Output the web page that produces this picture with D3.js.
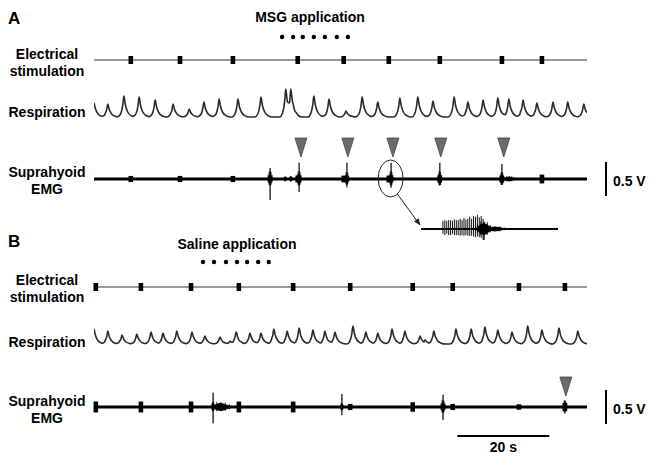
<!DOCTYPE html>
<html>
<head>
<meta charset="utf-8">
<script src="https://cdn.jsdelivr.net/npm/d3@7"></script>
<style>
  body { margin: 0; background: #fff; }
  svg { display: block; font-family: Arial, "Liberation Sans", sans-serif; font-weight: bold; }
</style>
</head>
<body>
<svg id="fig" width="649" height="456"></svg>
<script>
// all times in seconds, respiration in a.u., EMG in volts

// stimulation pulses
var stimA = [8.0, 18.7, 30.2, 44.3, 54.3, 64.1, 75.2, 88.7, 97.4];
var stimB = [0.4, 10.2, 21.1, 31.5, 43.3, 55.7, 69.3, 78.0, 92.4, 102.4];

// drops of MSG / saline
var dropsA = [40.9, 43.3, 45.4, 47.8, 50.2, 52.8, 55.2];
var dropsB = [23.7, 26.1, 28.7, 31.1, 33.3, 35.7, 38.0];

// respiration peaks [time, height]
var respA = [[0, 14], [3.0, 13], [6.5, 21], [9.8, 20], [13.3, 17], [17.2, 13], [20.7, 8],
  [23.9, 15], [27.2, 18], [31.3, 18], [36.3, 20], [41.7, 28], [42.8, 28], [47.8, 21],
  [51.1, 18], [54.8, 6], [58.3, 20], [61.7, 15], [66.5, 19], [70.4, 20], [73.7, 16],
  [78.3, 20], [81.3, 15], [84.6, 17], [87.8, 19], [90.2, 18], [93.3, 17], [96.3, 14],
  [99.8, 15], [103.0, 15], [106.5, 13]];
var respB = [[0, 15], [3.0, 13], [6.1, 9], [9.3, 10], [12.4, 12], [15.0, 11], [18.0, 13],
  [21.3, 12], [24.1, 8], [27.4, 7], [29.6, 3], [30.9, 12], [33.9, 11], [36.3, 11],
  [39.1, 15], [42.0, 13], [44.6, 16], [47.6, 14], [50.2, 13], [52.4, 12], [56.3, 18],
  [59.1, 12], [61.7, 11], [64.8, 15], [67.6, 13], [70.9, 8], [72.0, 4], [73.9, 13],
  [78.7, 15], [82.0, 15], [85.0, 17], [87.8, 14], [90.9, 12], [94.3, 18], [97.4, 14],
  [101.1, 16], [105.2, 13]];

// EMG stimulus artefact size at each pulse (V)
var artA = [0.045, 0.045, 0.045, 0.05, 0.05, 0.05, 0.05, 0.05, 0.065];
var artB = [0.08, 0.08, 0.08, 0.08, 0.08, 0.045, 0.07, 0.045, 0.04, 0.06];

// EMG bursts [time, half width s, envelope V, spike up V, spike down V]
var burstA = [[38.3, 0.6, 0.09, 0.16, 0.31], [41.6, 0.35, 0.03, 0, 0], [42.8, 0.35, 0.035, 0, 0],
  [44.6, 0.6, 0.09, 0.24, 0.19], [55.0, 0.5, 0.08, 0.24, 0.12], [64.6, 0.55, 0.09, 0.24, 0.13],
  [75.2, 0.5, 0.09, 0.24, 0.09], [88.7, 0.5, 0.08, 0.22, 0.09], [90.3, 1.5, 0.035, 0, 0]];
var burstB = [[25.9, 0.4, 0.06, 0.21, 0.24], [27.6, 2.6, 0.06, 0, 0], [53.9, 0.4, 0.045, 0.19, 0.12],
  [75.9, 0.6, 0.08, 0.18, 0.19], [102.4, 0.5, 0.07, 0.1, 0.1]];

// swallows (arrowheads)
var swallowA = [45.0, 55.2, 65.0, 75.4, 89.1];
var swallowB = [102.6];

// expanded swallow burst (inset), spike train up / down (V)
var insetUp = [0.12, 0.13, 0.12, 0.13, 0.13, 0.12, 0.14, 0.13, 0.13, 0.15, 0.13,
  0.16, 0.14, 0.15, 0.18, 0.15, 0.19, 0.18, 0.21, 0.17, 0.19, 0.15];
var insetDown = [0.07, 0.09, 0.07, 0.09, 0.09, 0.07, 0.09, 0.09, 0.09, 0.1, 0.09,
  0.1, 0.09, 0.1, 0.1, 0.1, 0.11, 0.12, 0.11, 0.12, 0.13, 0.16];
var insetBurst = [[1.38, 0.2, 0.09, 0.1, 0.16], [1.62, 0.3, 0.035, 0, 0], [2.0, 0.4, 0.012, 0, 0]];

var svg = d3.select("#fig");
var T = 107.2;
var x = d3.scaleLinear().domain([0, T]).range([94, 587]);

var defs = svg.append("defs");
defs.append("clipPath").attr("id", "clip")
  .append("rect").attr("x", x(0)).attr("y", 0).attr("width", x(T) - x(0)).attr("height", 456);
defs.append("marker").attr("id", "head").attr("viewBox", "0 0 10 10")
  .attr("refX", 9).attr("refY", 5).attr("markerWidth", 7).attr("markerHeight", 7)
  .attr("orient", "auto")
  .append("path").attr("d", "M0,1 L10,5 L0,9 Z").attr("fill", "#222");

// respiration waveform shape around each peak
var kOff = [-1.3, -0.7, -0.25, 0, 0.3, 0.8, 1.6, 2.4];
var kVal = [0, 0.15, 0.55, 1, 0.6, 0.25, 0.06, 0];
function kern(dt) {
  if (dt <= kOff[0] || dt >= kOff[kOff.length - 1]) return 0;
  var i = d3.bisectRight(kOff, dt) - 1;
  var f = (dt - kOff[i]) / (kOff[i + 1] - kOff[i]);
  return kVal[i] + f * (kVal[i + 1] - kVal[i]);
}
function respPoints(peaks) {
  var ts = [0, T];
  peaks.forEach(function(p) { kOff.forEach(function(o) { ts.push(p[0] + o); }); });
  ts = ts.filter(function(t) { return t >= 0 && t <= T; }).sort(function(a, b) { return a - b; });
  return ts.map(function(t) {
    return [t, d3.max(peaks, function(p) { return p[1] * kern(t - p[0]); })];
  });
}

var blobOff = [-1, -0.6, -0.25, 0, 0.25, 0.6, 1];
var blobShape = [0, 0.5, 0.9, 1, 0.85, 0.45, 0];
var spikeTex = [0.6, 1.35, 0.7, 1.6, 0.9, 1.25, 0.65, 1.45, 0.8, 1.15, 0.55];

function drawBursts(g, bursts, xs, ys) {
  bursts.forEach(function(b) {
    var pts = blobOff.map(function(o, i) { return { t: b[0] + o * b[1], h: b[2] * blobShape[i] }; });
    g.append("path").datum(pts)
      .attr("d", d3.area().x(function(d) { return xs(d.t); })
        .y0(function(d) { return ys(-d.h); }).y1(function(d) { return ys(d.h); })
        .curve(d3.curveBasis))
      .attr("fill", "#000");
    spikeTex.forEach(function(s, i) {
      var o = -1 + 2 * i / (spikeTex.length - 1);
      var e = b[2] * s * (1 - Math.abs(o) * 0.55);
      g.append("line")
        .attr("x1", xs(b[0] + o * b[1] * 0.9)).attr("x2", xs(b[0] + o * b[1] * 0.9))
        .attr("y1", ys(e)).attr("y2", ys(-e * 0.85))
        .attr("stroke", "#000").attr("stroke-width", 0.8);
    });
    if (b[3] || b[4]) {
      g.append("line").attr("x1", xs(b[0])).attr("x2", xs(b[0]))
        .attr("y1", ys(b[3])).attr("y2", ys(-b[4]))
        .attr("stroke", "#000").attr("stroke-width", 1.2);
    }
  });
}

function rowLabel(lines, y0) {
  var t = svg.append("text").attr("x", 47).attr("text-anchor", "middle")
    .attr("font-size", 14).attr("fill", "#000");
  lines.forEach(function(s, i) {
    t.append("tspan").attr("x", 47).attr("y", y0 + i * 17).text(s);
  });
}

function panel(p) {
  // panel letter and application label
  svg.append("text").attr("x", 8).attr("y", p.letterY).attr("font-size", 17).text(p.letter);
  svg.append("text").attr("x", p.appX).attr("y", p.appY).attr("text-anchor", "middle")
    .attr("font-size", 14).text(p.app);
  svg.append("g").selectAll("circle").data(p.drops).join("circle")
    .attr("cx", function(d) { return x(d); }).attr("cy", p.dropY).attr("r", 2.2).attr("fill", "#000");

  // electrical stimulation
  rowLabel(["Electrical", "stimulation"], p.stimLabY);
  svg.append("line").attr("x1", x(0)).attr("x2", x(T)).attr("y1", p.stimY).attr("y2", p.stimY)
    .attr("stroke", "#777").attr("stroke-width", 1.3);
  svg.append("g").selectAll("rect").data(p.stim).join("rect")
    .attr("x", function(d) { return x(d) - 2.3; }).attr("y", p.stimY - 4)
    .attr("width", 4.6).attr("height", 8).attr("fill", "#000");

  // respiration
  rowLabel(["Respiration"], p.respLabY);
  var yr = d3.scaleLinear().domain([0, 30]).range([p.respY, p.respY - 30]);
  svg.append("path").datum(respPoints(p.resp))
    .attr("clip-path", "url(#clip)")
    .attr("d", d3.line().x(function(d) { return x(d[0]); }).y(function(d) { return yr(d[1]); })
      .curve(d3.curveMonotoneX))
    .attr("fill", "none").attr("stroke", "#2a2a2a").attr("stroke-width", 1.6)
    .attr("stroke-linejoin", "round");

  // suprahyoid EMG
  rowLabel(["Suprahyoid", "EMG"], p.emgLabY);
  var ye = d3.scaleLinear().domain([-0.5, 0.5]).range([p.emgY + 34, p.emgY - 34]);
  var g = svg.append("g");
  g.append("line").attr("x1", x(0)).attr("x2", x(T)).attr("y1", ye(0)).attr("y2", ye(0))
    .attr("stroke", "#000").attr("stroke-width", 3);
  g.selectAll("rect").data(p.stim).join("rect")
    .attr("x", function(d) { return x(d) - 2.3; })
    .attr("y", function(d, i) { return ye(p.art[i]); })
    .attr("width", 4.6)
    .attr("height", function(d, i) { return ye(-p.art[i]) - ye(p.art[i]); })
    .attr("fill", "#000");
  drawBursts(g, p.bursts, x, ye);

  // swallow arrowheads
  svg.append("g").selectAll("path").data(p.swallow).join("path")
    .attr("d", function(d) {
      var cx = x(d);
      return "M" + (cx - 6) + "," + p.triY + "L" + (cx + 6) + "," + p.triY + "L" + cx + "," + (p.triY + 19) + "Z";
    })
    .attr("fill", "#6b6b6b").attr("stroke", "#444").attr("stroke-width", 0.8);

  // 0.5 V calibration
  svg.append("line").attr("x1", 606).attr("x2", 606).attr("y1", ye(0.25)).attr("y2", ye(-0.25))
    .attr("stroke", "#000").attr("stroke-width", 2);
  svg.append("text").attr("x", 613).attr("y", ye(0) + 7).attr("font-size", 14).text("0.5 V");
  return ye;
}

var yeA = panel({
  letter: "A", letterY: 24, app: "MSG application", appX: 310, appY: 22, drops: dropsA, dropY: 37,
  stim: stimA, stimY: 60, stimLabY: 59, resp: respA, respY: 117, respLabY: 117,
  emgY: 179, emgLabY: 177, art: artA, bursts: burstA, swallow: swallowA, triY: 138
});
panel({
  letter: "B", letterY: 247, app: "Saline application", appX: 237, appY: 249, drops: dropsB, dropY: 262,
  stim: stimB, stimY: 287, stimLabY: 285, resp: respB, respY: 344, respLabY: 347,
  emgY: 407, emgLabY: 406, art: artB, bursts: burstB, swallow: swallowB, triY: 377
});

// circled burst and arrow to the inset
var ex = x(64.5), ey = yeA(0) - 0.5;
svg.append("ellipse").attr("cx", ex).attr("cy", ey).attr("rx", 12.5).attr("ry", 18.5)
  .attr("fill", "none").attr("stroke", "#222").attr("stroke-width", 1);

var insetX = d3.scaleLinear().domain([0, 3]).range([421, 558]);
var insetY = d3.scaleLinear().domain([-0.5, 0.5]).range([229 + 34, 229 - 34]);
svg.append("line")
  .attr("x1", ex + 12.5 * Math.cos(1.0)).attr("y1", ey + 18.5 * Math.sin(1.0))
  .attr("x2", insetX(0) - 1).attr("y2", insetY(0) - 4)
  .attr("stroke", "#222").attr("stroke-width", 1).attr("marker-end", "url(#head)");

// inset: expanded swallow burst
var gi = svg.append("g");
gi.append("line").attr("x1", insetX(0)).attr("x2", insetX(3)).attr("y1", insetY(0)).attr("y2", insetY(0))
  .attr("stroke", "#000").attr("stroke-width", 2);
var si = d3.scaleLinear().domain([0, insetUp.length - 1]).range([0.48, 1.36]);
gi.selectAll("line.spk").data(insetUp).join("line").attr("class", "spk")
  .attr("x1", function(d, i) { return insetX(si(i)); }).attr("x2", function(d, i) { return insetX(si(i)); })
  .attr("y1", function(d) { return insetY(d); })
  .attr("y2", function(d, i) { return insetY(-insetDown[i]); })
  .attr("stroke", "#111").attr("stroke-width", 1);
drawBursts(gi, insetBurst, insetX, insetY);

// 20 s time bar
svg.append("line").attr("x1", x(79)).attr("x2", x(99)).attr("y1", 436).attr("y2", 436)
  .attr("stroke", "#000").attr("stroke-width", 2);
svg.append("text").attr("x", x(89)).attr("y", 452).attr("text-anchor", "middle")
  .attr("font-size", 14).text("20 s");
</script>
</body>
</html>
